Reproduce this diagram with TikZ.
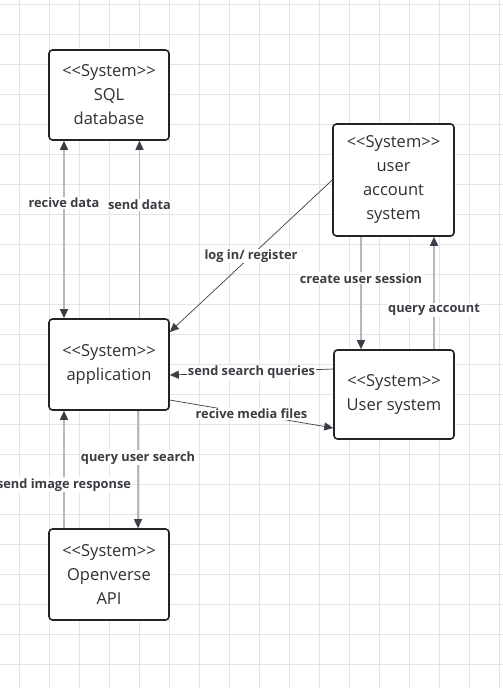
\documentclass[tikz,border=0pt]{standalone}
\usepackage{fontspec}
\setmainfont{Open Sans}
\usetikzlibrary{arrows.meta}
\definecolor{gridc}{HTML}{E4E4E4}
\definecolor{boxc}{HTML}{222428}
\definecolor{lgray}{HTML}{B4B8BE}
\definecolor{tipc}{HTML}{3B3F47}
\definecolor{labc}{HTML}{3A3D42}
\definecolor{txtc}{HTML}{2E3034}
\newcommand{\sysst}{<{}<System>{}>}
\tikzset{
  sysbox/.style={draw=boxc, line width=1.6pt, rounded corners=3.5pt, fill=white,
    minimum width=120pt, align=center, text=txtc,
    font=\fontsize{16.5pt}{24pt}\selectfont},
  grayline/.style={draw=lgray, line width=1.5pt},
  darkline/.style={draw=tipc, line width=0.7pt},
  tipend/.style={-{Triangle[length=9pt,width=8pt,color=tipc]}},
  tipboth/.style={{Triangle[length=9pt,width=8pt,color=tipc]}-{Triangle[length=9pt,width=8pt,color=tipc]}},
  lab/.style={fill=white, inner sep=1pt, text=labc, font=\fontsize{12.8pt}{14pt}\selectfont\bfseries}
}
\begin{document}
\begin{tikzpicture}[x=1pt,y=-1pt]
\useasboundingbox (0,0) rectangle (503,688);
\fill[white] (0,0) rectangle (503,688);
% grid
\foreach \gx in {19.3,49.3,...,503} \draw[gridc, line width=1pt] (\gx,0) -- (\gx,688);
\foreach \gy in {4,34,...,688} \draw[gridc, line width=1pt] (0,\gy) -- (503,\gy);
% nodes
\node[sysbox, minimum height=90pt] (sql) at (109,95) {\sysst\\SQL\\database};
\node[sysbox, minimum width=121pt, minimum height=112pt] (uas) at (393.5,180) {\sysst\\user\\account\\system};
\node[sysbox, minimum height=91pt] (app) at (109,364.5) {\sysst\\application};
\node[sysbox, minimum height=89pt] (us) at (394,394.5) {\sysst\\User system};
\node[sysbox, minimum height=91pt] (ov) at (109,574.5) {\sysst\\Openverse\\API};
% SQL <-> application
\draw[grayline, tipboth] (app.north -| 64,0) -- node[lab, pos=0.65] {recive data} (sql.south -| 64,0);
\draw[grayline, tipend] (app.north -| 139.5,0) -- node[lab, pos=0.64] {send data} (sql.south -| 139.5,0);
% login
\draw[darkline, tipend] (uas.west |- 0,180) -- node[lab] {log in/ register} (app.east |- 0,332);
% user account <-> user system
\draw[grayline, tipend] (uas.south -| 361,0) -- node[lab, pos=0.37] {create user session} (us.north -| 361,0);
\draw[grayline, tipend] (us.north -| 434,0) -- node[lab, pos=0.35] {query account} (uas.south -| 434,0);
% user system <-> application
\draw[darkline, tipend] (us.west |- 0,369) -- node[lab] {send search queries} (app.east |- 0,375);
\draw[darkline, tipend] (app.east |- 0,400) -- node[lab] {recive media files} (us.west |- 0,428);
% application <-> openverse
\draw[grayline, tipend] (app.south -| 138,0) -- node[lab, pos=0.4] {query user search} (ov.north -| 138,0);
\draw[grayline, tipend] (ov.north -| 64,0) -- node[lab, pos=0.37] {send image response} (app.south -| 64,0);
\end{tikzpicture}
\end{document}
